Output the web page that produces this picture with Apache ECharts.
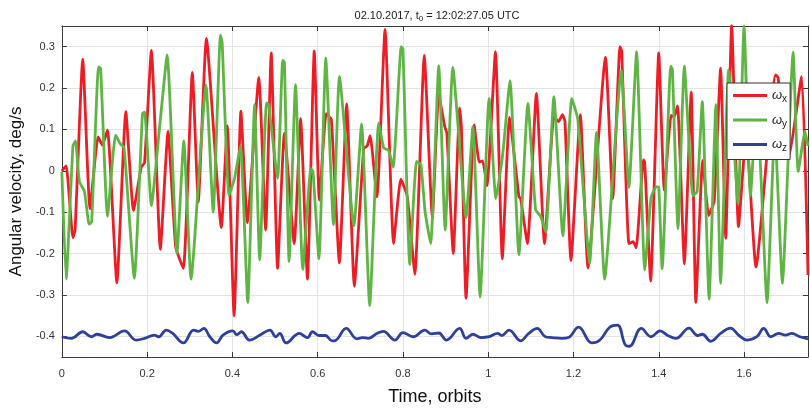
<!DOCTYPE html>
<html>
<head>
<meta charset="utf-8">
<script src="https://cdn.jsdelivr.net/npm/echarts@6/dist/echarts.min.js"></script>
<style>
html, body { margin: 0; padding: 0; background: #ffffff; }
#chart { width: 810px; height: 411px; }
</style>
</head>
<body>
<div id="chart"></div>
<script>
// Angular velocity components versus time (orbits)
const tX = [0.000,0.010,0.026,0.031,0.049,0.066,0.085,0.095,0.107,0.129,0.150,0.168,0.186,0.194,0.210,0.231,0.249,0.267,0.285,0.306,0.320,0.339,0.374,0.388,0.404,0.420,0.435,0.462,0.478,0.491,0.506,0.522,0.545,0.560,0.576,0.592,0.604,0.620,0.632,0.651,0.668,0.686,0.708,0.716,0.723,0.739,0.758,0.778,0.795,0.810,0.828,0.850,0.869,0.884,0.898,0.903,0.918,0.933,0.937,0.948,0.967,0.979,0.987,0.997,1.017,1.033,1.050,1.072,1.076,1.092,1.113,1.132,1.154,1.165,1.174,1.180,1.194,1.216,1.234,1.275,1.292,1.309,1.313,1.330,1.340,1.347,1.364,1.367,1.381,1.400,1.413,1.429,1.436,1.444,1.460,1.476,1.487,1.503,1.517,1.530,1.545,1.557,1.571,1.587,1.605,1.628,1.674,1.680,1.695,1.704,1.735,1.750];
const wX = [0.000,0.012,-0.162,-0.143,0.270,-0.092,0.082,0.062,0.098,-0.271,0.143,-0.096,0.008,0.020,0.291,-0.190,0.095,-0.184,-0.236,0.238,-0.075,0.320,-0.137,0.109,-0.351,0.144,-0.125,0.226,-0.143,0.285,-0.236,0.091,-0.176,0.126,-0.262,0.290,-0.071,0.138,0.124,-0.223,0.162,-0.279,0.054,0.060,0.085,-0.063,0.342,-0.176,-0.020,-0.061,-0.250,0.279,-0.113,0.185,0.107,0.091,-0.200,0.152,0.107,-0.308,0.111,0.021,0.024,-0.036,0.288,-0.213,0.129,-0.063,-0.067,-0.176,0.187,-0.176,0.130,0.119,0.136,0.119,-0.217,0.136,-0.235,0.275,-0.067,0.300,0.290,-0.176,-0.171,-0.186,0.027,0.020,-0.266,0.285,-0.047,0.134,0.130,0.157,-0.225,0.190,-0.318,0.025,-0.108,-0.073,0.248,-0.163,0.352,-0.135,0.090,-0.233,0.232,0.225,0.048,0.033,0.228,-0.252];

const tY = [0.000,0.010,0.026,0.032,0.041,0.053,0.064,0.070,0.086,0.091,0.107,0.126,0.138,0.146,0.170,0.189,0.194,0.210,0.229,0.247,0.270,0.286,0.303,0.338,0.355,0.372,0.376,0.392,0.405,0.419,0.436,0.452,0.464,0.480,0.485,0.506,0.518,0.522,0.533,0.548,0.565,0.584,0.589,0.603,0.619,0.637,0.651,0.685,0.703,0.722,0.743,0.755,0.766,0.777,0.796,0.800,0.816,0.832,0.842,0.852,0.865,0.884,0.899,0.917,0.948,0.964,0.981,1.002,1.018,1.034,1.051,1.072,1.093,1.111,1.123,1.135,1.154,1.175,1.196,1.210,1.238,1.254,1.273,1.312,1.330,1.348,1.367,1.382,1.394,1.400,1.408,1.428,1.432,1.445,1.460,1.480,1.490,1.502,1.518,1.534,1.545,1.564,1.586,1.600,1.615,1.630,1.654,1.672,1.690,1.715,1.727,1.743,1.750];
const wY = [-0.002,-0.262,0.060,0.072,-0.026,-0.050,-0.129,-0.123,0.251,0.247,-0.110,0.086,0.064,0.056,-0.260,0.138,0.142,-0.084,0.103,0.280,-0.200,0.072,-0.262,0.207,-0.100,0.328,0.309,-0.060,-0.018,0.060,-0.318,0.160,-0.215,0.164,0.160,-0.018,0.267,0.262,-0.219,0.208,-0.238,0.005,-0.002,-0.213,0.273,-0.130,0.228,-0.133,0.113,-0.326,0.116,0.055,0.050,0.009,0.300,0.295,-0.226,0.023,0.015,-0.100,-0.176,0.254,-0.143,0.250,-0.113,0.107,-0.305,0.175,-0.067,0.040,0.218,-0.203,0.163,-0.094,-0.110,-0.148,0.179,-0.157,0.175,0.125,-0.223,0.093,-0.262,0.242,-0.040,0.288,-0.240,-0.065,-0.038,-0.040,-0.237,0.253,0.245,-0.140,0.253,-0.060,-0.050,0.167,-0.310,0.160,-0.272,0.244,-0.080,0.350,-0.061,0.170,-0.319,0.100,-0.272,0.287,-0.002,0.095,0.060];

const tZ = [0.000,0.022,0.049,0.069,0.082,0.112,0.147,0.174,0.194,0.217,0.227,0.245,0.260,0.285,0.309,0.320,0.333,0.347,0.363,0.378,0.401,0.410,0.421,0.440,0.465,0.488,0.502,0.511,0.526,0.557,0.576,0.588,0.603,0.618,0.634,0.642,0.667,0.692,0.705,0.719,0.739,0.754,0.781,0.800,0.824,0.851,0.867,0.884,0.902,0.933,0.948,0.964,0.983,1.002,1.022,1.032,1.049,1.076,1.095,1.115,1.134,1.150,1.173,1.188,1.212,1.243,1.262,1.285,1.303,1.321,1.331,1.359,1.382,1.403,1.421,1.440,1.471,1.491,1.502,1.522,1.545,1.568,1.588,1.607,1.630,1.646,1.663,1.681,1.697,1.712,1.731,1.750];
const wZ = [-0.401,-0.405,-0.389,-0.401,-0.395,-0.403,-0.387,-0.409,-0.405,-0.397,-0.401,-0.385,-0.393,-0.416,-0.385,-0.388,-0.381,-0.401,-0.416,-0.397,-0.387,-0.396,-0.389,-0.409,-0.397,-0.385,-0.401,-0.393,-0.416,-0.393,-0.403,-0.389,-0.398,-0.398,-0.411,-0.410,-0.381,-0.406,-0.403,-0.405,-0.393,-0.388,-0.409,-0.391,-0.401,-0.385,-0.394,-0.392,-0.409,-0.381,-0.405,-0.395,-0.403,-0.401,-0.393,-0.398,-0.385,-0.411,-0.393,-0.381,-0.401,-0.403,-0.405,-0.403,-0.378,-0.416,-0.409,-0.378,-0.373,-0.420,-0.424,-0.381,-0.401,-0.387,-0.398,-0.405,-0.380,-0.398,-0.395,-0.412,-0.393,-0.380,-0.398,-0.409,-0.401,-0.381,-0.401,-0.393,-0.397,-0.393,-0.401,-0.406];

const xTicks = [0, 0.2, 0.4, 0.6, 0.8, 1, 1.2, 1.4, 1.6];
const yTicks = [-0.4, -0.3, -0.2, -0.1, 0, 0.1, 0.2, 0.3];
const seriesNames = ['ωx', 'ωy', 'ωz'];
const subscripts = { 'ωx': 'x', 'ωy': 'y', 'ωz': 'z' };

const FONT = '"Liberation Sans", Arial, Helvetica, sans-serif';
const AXIS_COLOR = '#3a3a3a';
const GRID_COLOR = '#e4e4e4';
const COLORS = ['#ee1c25', '#5fb544', '#2e3f9d'];

const pairs = (t, v) => t.map((x, i) => [x, v[i]]);

const chart = echarts.init(document.getElementById('chart'), null, { renderer: 'canvas' });

const frameAxis = (extra) => Object.assign({
  type: 'value',
  axisLine: { show: true, onZero: false, lineStyle: { color: AXIS_COLOR, width: 1 } },
  axisTick: { show: true, inside: true, length: 5, lineStyle: { color: AXIS_COLOR } },
  axisLabel: { show: false },
  splitLine: { show: false }
}, extra);

chart.setOption({
  animation: false,
  backgroundColor: '#ffffff',
  title: {
    text: '{a|02.10.2017, t}{s|0}{a| = 12:02:27.05 UTC}',
    left: 432,
    top: 3,
    textAlign: 'center',
    textStyle: {
      fontWeight: 'normal',
      rich: {
        a: { fontFamily: FONT, fontSize: 11, fontWeight: 'normal', color: '#222222' },
        s: { fontFamily: FONT, fontSize: 8, fontWeight: 'normal', color: '#222222', padding: [7, 0, 0, 0] }
      }
    }
  },
  grid: { left: 57, right: 2, top: 26, bottom: 45, containLabel: false },
  legend: {
    orient: 'vertical',
    left: 727,
    top: 83,
    backgroundColor: '#ffffff',
    borderColor: '#333333',
    borderWidth: 1,
    borderRadius: 0,
    padding: [6, 3, 6, 6],
    itemGap: 9,
    itemWidth: 34,
    itemHeight: 3,
    icon: 'rect',
    data: seriesNames,
    formatter: (n) => '{w|ω}{s|' + subscripts[n] + '}',
    textStyle: {
      rich: {
        w: { fontFamily: FONT, fontSize: 13, fontStyle: 'italic', color: '#222222' },
        s: { fontFamily: FONT, fontSize: 10, color: '#222222', padding: [8, 0, 0, 0] }
      }
    }
  },
  xAxis: [
    frameAxis({
      min: 0, max: 1.75, position: 'bottom',
      axisTick: { show: true, inside: true, length: 5, customValues: xTicks, lineStyle: { color: AXIS_COLOR } },
      axisLabel: { show: true, customValues: xTicks, color: '#333333', fontFamily: FONT, fontSize: 11, margin: 11 },
      splitLine: { show: true, lineStyle: { color: GRID_COLOR, width: 1 } },
      name: 'Time, orbits',
      nameLocation: 'middle',
      nameGap: 31,
      nameTextStyle: { fontFamily: FONT, fontSize: 18, color: '#111111' }
    }),
    frameAxis({
      min: 0, max: 1.75, position: 'top',
      axisTick: { show: true, inside: true, length: 5, customValues: xTicks, lineStyle: { color: AXIS_COLOR } }
    })
  ],
  yAxis: [
    frameAxis({
      min: -0.45, max: 0.35, position: 'left',
      axisTick: { show: true, inside: true, length: 5, customValues: yTicks, lineStyle: { color: AXIS_COLOR } },
      axisLabel: { show: true, customValues: yTicks, color: '#333333', fontFamily: FONT, fontSize: 11, margin: 7 },
      splitLine: { show: true, lineStyle: { color: GRID_COLOR, width: 1 } },
      name: 'Angular velocity, deg/s',
      nameLocation: 'middle',
      nameGap: 32,
      nameRotate: 90,
      nameTextStyle: { fontFamily: FONT, fontSize: 17, color: '#111111' }
    }),
    frameAxis({
      min: -0.45, max: 0.35, position: 'right',
      axisTick: { show: true, inside: true, length: 5, customValues: yTicks, lineStyle: { color: AXIS_COLOR } }
    })
  ],
  series: [
    { name: seriesNames[0], data: pairs(tX, wX), color: COLORS[0] },
    { name: seriesNames[1], data: pairs(tY, wY), color: COLORS[1] },
    { name: seriesNames[2], data: pairs(tZ, wZ), color: COLORS[2], smooth: 0.4 }
  ].map((s) => Object.assign({
    type: 'line',
    showSymbol: false,
    symbol: 'none',
    clip: true,
    smooth: 0.15,
    lineStyle: { width: 2.8, color: s.color },
    itemStyle: { color: s.color }
  }, s))
});
</script>
</body>
</html>
